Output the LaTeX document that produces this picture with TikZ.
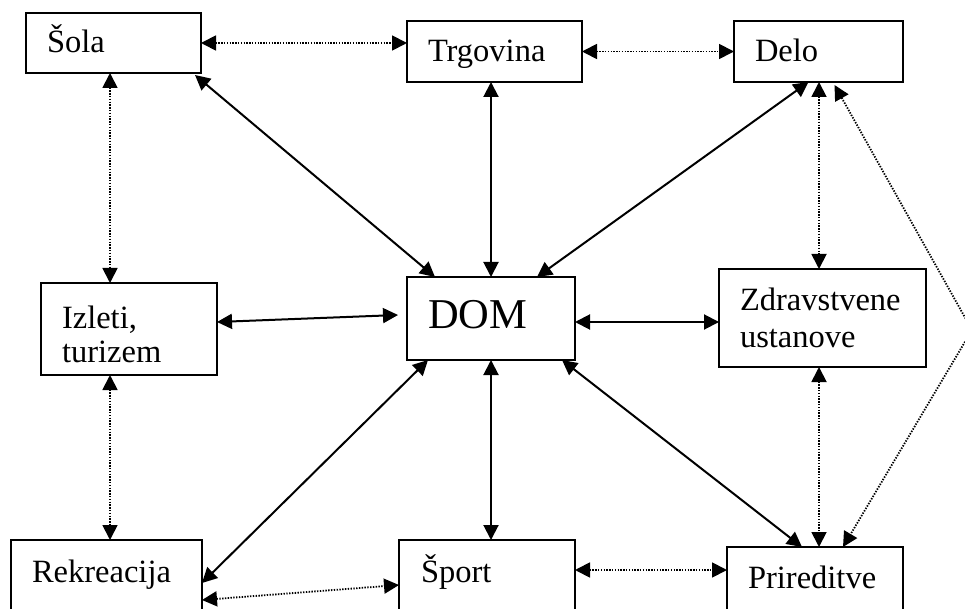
\documentclass[tikz,border=0pt]{standalone}
\usepackage{fontspec}
\setmainfont{Liberation Serif}
\usetikzlibrary{arrows.meta,calc}
\begin{document}
\begin{tikzpicture}[x=1pt,y=-1pt,
  box/.style={draw, line width=2pt, inner sep=0pt, outer sep=0pt},
  lbl/.style={anchor=base west, inner sep=0pt, outer sep=0pt, font=\fontsize{32.5}{38}\selectfont},
  both/.style={{Triangle[length=15pt,width=15pt]}-{Triangle[length=15pt,width=15pt]}, line width=2pt},
  solidlink/.style={both},
  dotlink/.style={both, line width=1.8pt, dash pattern=on 1.4pt off 1.4pt}]
\useasboundingbox (0,0) rectangle (965,609);
\fill[white] (0,0) rectangle (965,609);
\clip (0,0) rectangle (965,609);
% boxes
\node[box, minimum width=175pt, minimum height=60pt] (sola) at (113.5,43) {};
\node[box, minimum width=175pt, minimum height=61pt] (trg) at (494.5,51.5) {};
\node[box, minimum width=169pt, minimum height=61pt] (delo) at (818.5,51.5) {};
\node[box, minimum width=176pt, minimum height=92pt] (izl) at (129,329) {};
\node[box, minimum width=168pt, minimum height=83pt] (dom) at (491,318.5) {};
\node[box, minimum width=207pt, minimum height=98pt] (zdr) at (822.5,318) {};
\node[box, minimum width=191pt, minimum height=80pt] (rek) at (106.5,580) {};
\node[box, minimum width=176pt, minimum height=80pt] (spo) at (487,580) {};
\node[box, minimum width=176pt, minimum height=73pt] (pri) at (815,583.5) {};
% labels
\node[lbl] (tsola) at (47,53) {Šola};
\node[lbl] (ttrg) at (428,62) {Trgovina};
\node[lbl] (tdelo) at (755,62) {Delo};
\node[lbl] (tizl1) at (62,328) {Izleti,};
\node[lbl] (tizl2) at (62,362) {turizem};
\node[lbl, font=\fontsize{42.5}{50}\selectfont] (tdom) at (428,328) {DOM};
\node[lbl] (tzdr1) at (740,310) {Zdravstvene};
\node[lbl] (tzdr2) at (740,347) {ustanove};
\node[lbl] (trek) at (32,582) {Rekreacija};
\node[lbl] (tspo) at (421,582) {Šport};
\node[lbl] (tpri) at (748,588) {Prireditve};
% helper coordinates
\coordinate (c110) at (110,0);
\coordinate (c819) at (819,0);
\coordinate (bend) at (972,330);
% dotted connectors
\draw[dotlink] (sola.east) -- (trg.west |- sola.east);
\draw[dotlink] (trg.east) -- (delo.west);
\draw[dotlink] (sola.south -| c110) -- (izl.north -| c110);
\draw[dotlink] (izl.south -| c110) -- (rek.north -| c110);
\draw[dotlink] (delo.south -| c819) -- (zdr.north -| c819);
\draw[dotlink] (zdr.south -| c819) -- (pri.north -| c819);
\draw[dotlink] ([xshift=16pt,yshift=-3pt]delo.south) -- (bend) -- ([xshift=28pt]pri.north);
\draw[dotlink] ([yshift=-20pt]rek.east) -- ([yshift=-5pt]spo.west);
\draw[dotlink] ([yshift=10pt]spo.east) -- ([yshift=13.5pt]pri.west);
% solid connectors
\draw[solidlink] ([xshift=-6pt,yshift=-2pt]sola.south east) -- ([xshift=-56pt]dom.north);
\draw[solidlink] (trg.south -| dom.north) -- (dom.north);
\draw[solidlink] ([xshift=-10pt]delo.south) -- ([xshift=46pt]dom.north);
\draw[solidlink] ([yshift=7pt]izl.east) -- ([xshift=-9pt,yshift=3.5pt]dom.west);
\draw[solidlink] ([yshift=-3.5pt]dom.east) -- ([yshift=-4pt]zdr.west);
\draw[solidlink] ([xshift=-63pt]dom.south) -- ([yshift=-3pt]rek.east);
\draw[solidlink] (dom.south) -- (spo.north -| dom.south);
\draw[solidlink] ([xshift=71pt]dom.south) -- ([xshift=-13pt]pri.north);
\end{tikzpicture}
\end{document}
